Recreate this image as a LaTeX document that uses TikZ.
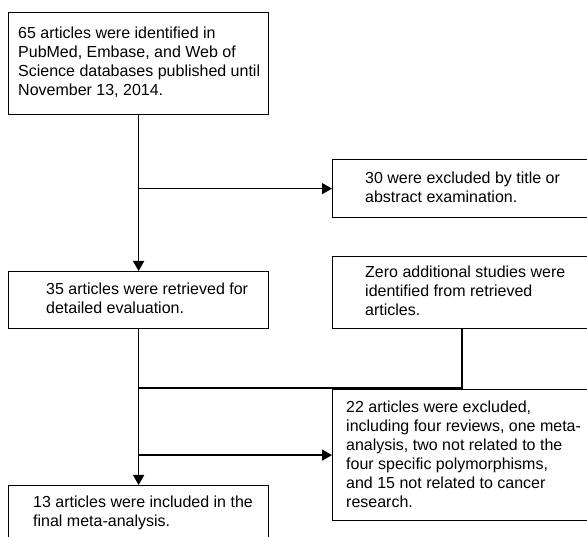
\documentclass[tikz,border=0pt]{standalone}
\usepackage{fontspec}
\setmainfont{Liberation Sans}
\usetikzlibrary{arrows.meta,calc}
\begin{document}
\begin{tikzpicture}[x=1pt,y=-1pt,
  boxstyle/.style={draw=black,line width=1.2pt,rectangle,anchor=north west,inner sep=0pt,minimum width=#1},
  txtstyle/.style={anchor=north west,inner sep=0pt,align=left,font=\fontsize{16}{19}\selectfont},
  conn/.style={line width=1.2pt},
  arr/.style={conn,-{Triangle[length=10pt,width=11pt]}}]
\useasboundingbox (0,0) rectangle (587,537);
\clip (0,0) rectangle (587,537);
% boxes
\node[boxstyle=260pt,minimum height=102pt] (b1) at (8,12) {};
\node[boxstyle=300pt,minimum height=58pt] (b2) at (332,159) {};
\node[boxstyle=260pt,minimum height=57pt] (b3) at (8,271) {};
\node[boxstyle=300pt,minimum height=72pt] (b4) at (332,256) {};
\node[boxstyle=300pt,minimum height=131pt] (b5) at (332,389) {};
\node[boxstyle=260pt,minimum height=80pt] (b6) at (8,485) {};
% texts
\node[txtstyle] (t1) at (18,24.7) {\strut 65 articles were identified in\\PubMed, Embase, and Web of\\Science databases published until\\November 13, 2014.};
\node[txtstyle] (t2) at (365,169.7) {\strut 30 were excluded by title or\\abstract examination.};
\node[txtstyle] (t3) at (46,280.7) {\strut 35 articles were retrieved for\\detailed evaluation.};
\node[txtstyle] (t4) at (365,263.7) {\strut Zero additional studies were\\identified from retrieved\\articles.};
\node[txtstyle] (t5) at (346,398.7) {\strut 22 articles were excluded,\\including four reviews, one meta-\\analysis, two not related to the\\four specific polymorphisms,\\and 15 not related to cancer\\research.};
\node[txtstyle] (t6) at (33,493.7) {\strut 13 articles were included in the\\final meta-analysis.};
% junctions
\coordinate (j1) at (b1.south |- b2.west);
\coordinate (z) at ($(b4.south west)+(130,0)$);
\coordinate (j2) at (b3.south |- 0,388);
\coordinate (j3) at (b3.south |- b5.west);
% connectors
\draw[arr] (b1.south) -- (b3.north);
\draw[arr] (j1) -- (b2.west);
\draw[arr] (b3.south) -- (b6.north);
\draw[conn] (z) |- (j2);
\draw[arr] (j3) -- (b5.west);
\end{tikzpicture}
\end{document}
